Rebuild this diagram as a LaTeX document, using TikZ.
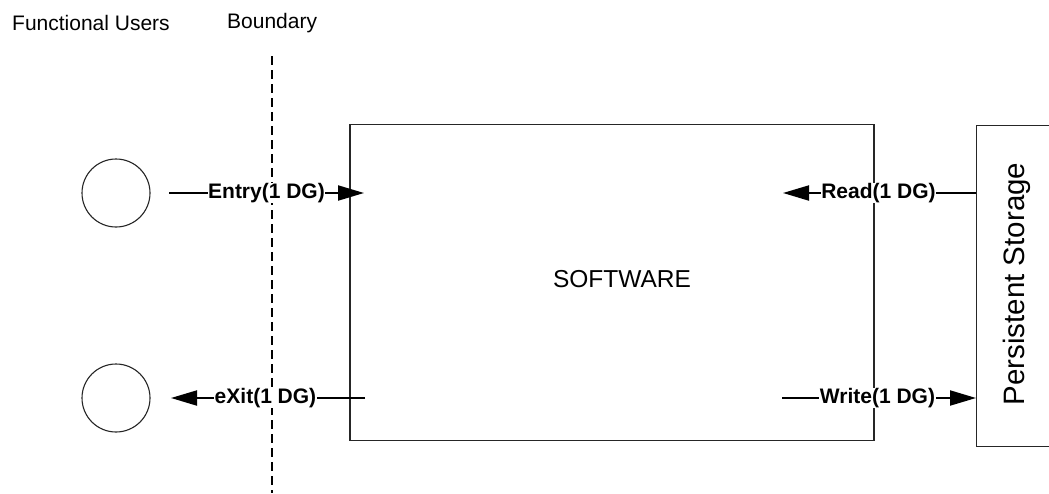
\documentclass[tikz,border=0pt]{standalone}
\usepackage{fontspec}
\setmainfont{Liberation Sans}
\usetikzlibrary{arrows.meta}
\begin{document}
\begin{tikzpicture}[x=1pt,y=-1pt,
  box/.style={draw=black!85, line width=1.1pt, rectangle, inner sep=0pt},
  user/.style={draw=black!85, line width=1.1pt, circle, minimum size=68pt, inner sep=0pt},
  flow/.style={line width=2pt, -{Triangle[length=26pt,width=15pt]}},
  flowlabel/.style={fill=white, inner sep=0.5pt, font=\fontsize{21}{25}\selectfont\bfseries},
  toplabel/.style={anchor=west, inner sep=0pt, font=\fontsize{21}{25}\selectfont},
  boundary/.style={line width=1.1pt, dash pattern=on 9pt off 5pt}]
\clip (0,0) rectangle (1049,493);
\fill[white] (0,0) rectangle (1049,493);
\node[toplabel] (fu) at (12,23) {Functional Users};
\node[toplabel] (bd) at (227,23) {Boundary};
\coordinate (btop) at (272,56);
\coordinate (bbot) at (272,493);
\draw[boundary] (btop) -- (bbot);
\node[user] (u1) at (116,193) {};
\node[user] (u2) at (116,398) {};
\node[box, minimum width=524pt, minimum height=316pt] (sw) at (612,282.5) {};
\node[font=\fontsize{24.5}{28}\selectfont] (swt) at (622,279) {SOFTWARE};
\node[box, minimum width=120pt, minimum height=321pt, anchor=north west] (ps) at (976,125) {};
\node[rotate=90, font=\fontsize{29.5}{33}\selectfont] (pst) at (1017,284) {Persistent Storage};
% flows
\coordinate (eS) at (169,193);
\coordinate (eE) at (364,193);
\coordinate (xS) at (365,398);
\coordinate (xE) at (171,398);
\coordinate (rS) at (ps.west |- u1);
\coordinate (rE) at (783,193);
\coordinate (wS) at (782,398);
\coordinate (wE) at (ps.west |- u2);
\draw[flow] (eS) -- (eE);
\draw[flow] (xS) -- (xE);
\draw[flow] (rS) -- (rE);
\draw[flow] (wS) -- (wE);
\node[flowlabel] (el) at (266.5,193) {Entry(1 DG)};
\node[flowlabel] (xl) at (265.5,398) {eXit(1 DG)};
\node[flowlabel] (rl) at (878.5,193) {Read(1 DG)};
\node[flowlabel] (wl) at (877.5,398) {Write(1 DG)};
\end{tikzpicture}
\end{document}
